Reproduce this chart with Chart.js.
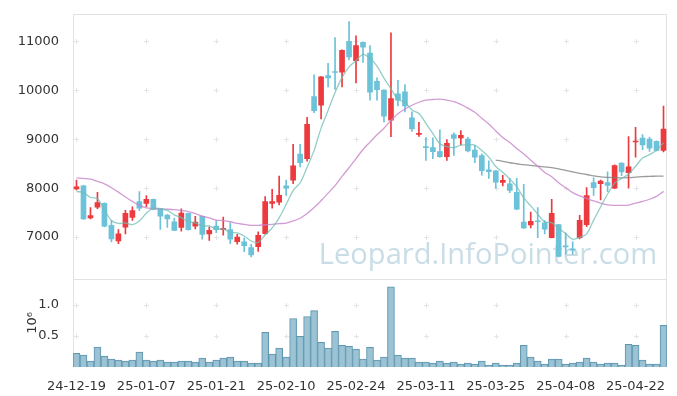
<!DOCTYPE html>
<html lang="ko">
<head>
<meta charset="utf-8" />
<script src="https://cdn.jsdelivr.net/npm/chart.js@4.4.1/dist/chart.umd.min.js"></script>
<style>
  body { margin: 0; background: #fff; }
  canvas { display: block; }
</style>
</head>
<body>
<canvas id="grafico" width="677" height="396"></canvas>
<script>
// trading days (yy-mm-dd)
const dates = [
  '24-12-19','24-12-20','24-12-23','24-12-24','24-12-26','24-12-27','24-12-30','25-01-02','25-01-03','25-01-06',
  '25-01-07','25-01-08','25-01-09','25-01-10','25-01-13','25-01-14','25-01-15','25-01-16','25-01-17','25-01-20',
  '25-01-21','25-01-22','25-01-23','25-01-24','25-01-31','25-02-03','25-02-04','25-02-05','25-02-06','25-02-07',
  '25-02-10','25-02-11','25-02-12','25-02-13','25-02-14','25-02-17','25-02-18','25-02-19','25-02-20','25-02-21',
  '25-02-24','25-02-25','25-02-26','25-02-27','25-02-28','25-03-04','25-03-05','25-03-06','25-03-07','25-03-10',
  '25-03-11','25-03-12','25-03-13','25-03-14','25-03-17','25-03-18','25-03-19','25-03-20','25-03-21','25-03-24',
  '25-03-25','25-03-26','25-03-27','25-03-28','25-03-31','25-04-01','25-04-02','25-04-03','25-04-04','25-04-07',
  '25-04-08','25-04-09','25-04-10','25-04-11','25-04-14','25-04-15','25-04-16','25-04-17','25-04-18','25-04-21',
  '25-04-22','25-04-23','25-04-24','25-04-25','25-04-28'
];
const xTickDates = ['24-12-19','25-01-07','25-01-21','25-02-10','25-02-24','25-03-11','25-03-25','25-04-08','25-04-22'];
const priceTicks = [7000, 8000, 9000, 10000, 11000];
const volTicks = [0.5, 1.0];

const open = [
  7985,8050,7390,7613,7690,7240,6920,7205,7405,7725,
  7690,7770,7580,7450,7310,7200,7485,7225,7425,7065,
  7225,7150,7155,6905,6905,6785,6805,7070,7690,7715,
  8050,8165,8695,8605,9875,9695,10300,10375,10370,11000,
  10605,10980,10760,10185,10005,9390,9930,9970,9440,9100,
  8840,8830,8750,8645,9095,9030,9005,8780,8665,8375,
  8355,8120,8090,7915,7305,7250,7330,7290,6990,7255,
  6810,6745,6990,7255,8115,8095,8115,8000,8515,8315,
  8945,9025,9005,8960,8770
];
const high = [
  8165,8060,7605,7915,7700,7340,7155,7550,7620,7930,
  7850,7780,7590,7460,7390,7580,7490,7425,7430,7210,
  7340,7410,7290,7055,6985,6855,7110,7830,7975,8250,
  8165,8895,8895,9450,10315,10280,10555,11080,10830,11405,
  11115,10990,10915,10255,10010,11175,10205,10120,9560,9345,
  9035,9030,9195,8995,9130,9180,9040,8870,8705,8560,
  8360,8265,8200,8200,8080,7510,7605,7340,7775,7260,
  7090,6905,7445,8015,8210,8165,8335,8480,8520,9055,
  9245,9095,9040,8970,9680
];
const low = [
  7965,7360,7370,7580,7210,6900,6865,7065,7340,7540,
  7620,7555,7155,7200,7130,7120,7140,7170,6960,6935,
  7090,7040,6865,6855,6700,6595,6710,7060,7590,7660,
  7850,8095,8435,8555,9545,9415,10070,10020,10070,10620,
  10150,10570,9800,9800,9355,9055,9680,9560,9160,9060,
  8570,8605,8630,8570,8670,8885,8740,8520,8265,8200,
  8000,8045,7910,7560,7175,7190,6990,7065,6985,6595,
  6650,6650,6965,7215,7850,7760,7930,7990,8255,8000,
  8635,8790,8750,8760,8740
];
const close = [
  8030,7370,7440,7707,7225,6965,7065,7485,7545,7590,
  7770,7565,7430,7370,7135,7490,7150,7305,7055,7140,
  7150,7180,6960,7000,6825,6635,7035,7725,7725,7855,
  8000,8455,8520,9305,9585,10275,10255,10365,10820,10685,
  10915,10885,9965,10015,9470,9830,9800,9680,9210,9110,
  8830,8745,8645,8915,9020,9080,8760,8635,8360,8340,
  8125,8160,7955,7570,7190,7325,7315,7160,7485,6605,
  6800,6735,7345,7850,8010,8145,8055,8460,8335,8435,
  8960,8885,8820,8770,9210
];
// volume in millions of shares
const volume = [
  0.22,0.19,0.095,0.32,0.175,0.127,0.111,0.095,0.111,0.238,
  0.111,0.095,0.111,0.079,0.079,0.095,0.095,0.079,0.143,0.079,
  0.111,0.143,0.159,0.095,0.095,0.063,0.063,0.556,0.206,0.302,
  0.159,0.778,0.492,0.81,0.905,0.397,0.305,0.571,0.349,0.333,
  0.286,0.127,0.317,0.111,0.159,1.286,0.19,0.143,0.143,0.079,
  0.079,0.063,0.095,0.063,0.079,0.048,0.063,0.048,0.095,0.032,
  0.063,0.032,0.032,0.063,0.349,0.159,0.095,0.048,0.127,0.127,
  0.048,0.063,0.079,0.143,0.079,0.048,0.063,0.063,0.032,0.365,
  0.349,0.111,0.048,0.048,0.667
];
// moving averages
const ma5 = [
  7930,7915,7810,7785,7554,7341,7280,7289,7257,7330,
  7491,7591,7580,7545,7454,7398,7315,7290,7227,7228,
  7160,7166,7097,7086,7023,6920,6891,7044,7189,7395,
  7668,7952,8111,8427,8773,9228,9588,9957,10260,10480,
  10608,10734,10654,10493,10250,10033,9816,9759,9598,9526,
  9326,9115,8908,8849,8831,8881,8884,8882,8771,8635,
  8444,8324,8188,8030,7800,7640,7471,7312,7295,7178,
  7073,6957,6994,7067,7348,7617,7881,8104,8201,8286,
  8449,8615,8687,8774,8929
];
const ma20 = [
  8210,8200,8185,8140,8090,8010,7920,7820,7730,7650,
  7600,7585,7575,7570,7560,7545,7520,7480,7430,7392,
  7348,7338,7314,7279,7259,7242,7241,7253,7262,7275,
  7287,7331,7386,7482,7605,7744,7899,8052,8241,8418,
  8606,8791,8942,9092,9225,9384,9523,9620,9695,9757,
  9799,9813,9820,9800,9772,9712,9637,9551,9428,9311,
  9171,9035,8934,8812,8698,8573,8449,8323,8236,8111,
  8010,7909,7844,7791,7740,7694,7658,7650,7648,7653,
  7695,7731,7774,7834,7935
];
const maLong = [
  null,null,null,null,null,null,null,null,null,null,
  null,null,null,null,null,null,null,null,null,null,
  null,null,null,null,null,null,null,null,null,null,
  null,null,null,null,null,null,null,null,null,null,
  null,null,null,null,null,null,null,null,null,null,
  null,null,null,null,null,null,null,null,null,null,
  8575,8550,8520,8500,8480,8465,8450,8435,8420,8395,
  8365,8335,8305,8280,8250,8230,8220,8215,8212,8215,
  8225,8235,8242,8246,8248
];

const ROJO = '#ec3a3f';
const AZUL = '#6cc2d8';
const colorVela = open.map((o, i) => close[i] >= o ? ROJO : AZUL);
const cuerpos = open.map((o, i) => [o, close[i]]);
const mechas = low.map((l, i) => [l, high[i]]);

Chart.defaults.font.family = '"DejaVu Sans"';
Chart.defaults.font.size = 13;
Chart.defaults.color = '#333';

// border lines, "+" grid marks and the watermark
const decorado = {
  id: 'decorado',
  beforeDatasetsDraw(chart) {
    const {ctx, chartArea: a, scales} = chart;
    ctx.save();
    // watermark
    const texto = 'Leopard.InfoPointer.com';
    ctx.font = '30px "Open Sans"';
    const w = ctx.measureText(texto).width;
    ctx.font = (30 * 338 / w).toFixed(1) + 'px "Open Sans"';
    ctx.fillStyle = 'rgba(165,198,215,0.6)';
    ctx.textAlign = 'center';
    ctx.textBaseline = 'alphabetic';
    ctx.fillText(texto, 488, 264);
    // crosses
    ctx.strokeStyle = '#e4e4e4';
    ctx.lineWidth = 1;
    const xs = dates.map((d, i) => xTickDates.includes(d) ? scales.x.getPixelForValue(i) : null).filter(v => v !== null);
    const ys = priceTicks.map(v => scales.y.getPixelForValue(v)).concat(volTicks.map(v => scales.yv.getPixelForValue(v)));
    ctx.beginPath();
    xs.forEach(x => ys.forEach(y => {
      const px = Math.round(x) + 0.5, py = Math.round(y) + 0.5;
      ctx.moveTo(px - 2.5, py); ctx.lineTo(px + 2.5, py);
      ctx.moveTo(px, py - 2.5); ctx.lineTo(px, py + 2.5);
    }));
    ctx.stroke();
    // panel borders
    ctx.strokeStyle = '#e2e2e2';
    ctx.beginPath();
    const l = Math.round(a.left) + 0.5, r = Math.round(a.right) - 0.5;
    const t = Math.round(a.top) + 0.5, b = Math.round(a.bottom) - 0.5;
    const m = Math.round(scales.yv.top) + 0.5;
    ctx.rect(l, t, r - l, b - t);
    ctx.moveTo(l, m); ctx.lineTo(r, m);
    ctx.stroke();
    ctx.restore();
  }
};

new Chart(document.getElementById('grafico'), {
  data: {
    labels: dates,
    datasets: [
      {type: 'line', label: 'MA5', data: ma5, yAxisID: 'y', borderColor: 'rgba(110,190,180,0.75)', borderWidth: 1.3, pointRadius: 0, tension: 0.3, order: 0},
      {type: 'line', label: 'MA20', data: ma20, yAxisID: 'y', borderColor: 'rgba(200,130,200,0.8)', borderWidth: 1.3, pointRadius: 0, tension: 0.3, order: 0},
      {type: 'line', label: 'MA120', data: maLong, yAxisID: 'y', borderColor: 'rgba(130,130,130,0.8)', borderWidth: 1.3, pointRadius: 0, tension: 0.3, order: 0},
      {type: 'bar', label: 'body', data: cuerpos, yAxisID: 'y', backgroundColor: colorVela, barThickness: 5, minBarLength: 1, grouped: false, order: 1},
      {type: 'bar', label: 'wick', data: mechas, yAxisID: 'y', backgroundColor: colorVela, barThickness: 1, grouped: false, order: 2},
      {type: 'bar', label: 'volume', data: volume, yAxisID: 'yv', backgroundColor: 'rgba(150,192,210,0.95)', borderColor: '#5f96b0', borderWidth: 1, barPercentage: 1, categoryPercentage: 1, grouped: false, order: 3}
    ]
  },
  options: {
    responsive: false,
    animation: false,
    devicePixelRatio: 1,
    layout: {padding: {top: 10, right: 10, left: 0, bottom: 0}},
    plugins: {legend: {display: false}, tooltip: {enabled: false}},
    scales: {
      x: {
        type: 'category',
        offset: true,
        grid: {display: false},
        border: {display: false},
        ticks: {
          autoSkip: false, maxRotation: 0, padding: 4,
          callback: function (v, i) { return xTickDates.includes(dates[i]) ? dates[i] : ''; }
        },
        afterFit: s => { s.height = 29; }
      },
      y: {
        type: 'linear', position: 'left', stack: 'panel', stackWeight: 3, weight: 2,
        min: 6150, max: 11565,
        grid: {display: false},
        border: {display: false},
        ticks: {padding: 6, callback: v => String(v)},
        afterBuildTicks: s => { s.ticks = priceTicks.map(v => ({value: v})); },
        afterFit: s => { s.width = 73; }
      },
      yv: {
        type: 'linear', position: 'left', stack: 'panel', stackWeight: 1, weight: 1,
        min: 0, max: 1.417,
        grid: {display: false},
        border: {display: false},
        ticks: {padding: 6, callback: v => v.toFixed(1)},
        afterBuildTicks: s => { s.ticks = volTicks.map(v => ({value: v})); },
        title: {display: true, text: '10⁶', padding: {top: 25, bottom: 0}},
        afterFit: s => { s.width = 73; }
      }
    }
  },
  plugins: [decorado]
});
</script>
</body>
</html>
